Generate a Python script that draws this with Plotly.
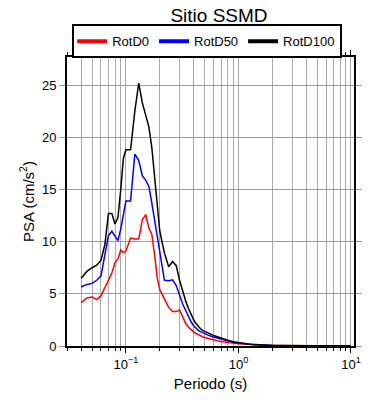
import plotly.graph_objects as go

periods = [0.04, 0.045, 0.05, 0.055, 0.06, 0.065, 0.07, 0.075, 0.08, 0.085, 0.09, 0.095, 0.1,
           0.11, 0.12, 0.13, 0.14, 0.15, 0.16, 0.17, 0.18, 0.19, 0.2,
           0.22, 0.24, 0.26, 0.28, 0.3, 0.32, 0.34, 0.36, 0.38, 0.4, 0.42, 0.44, 0.46, 0.48, 0.5,
           0.55, 0.6, 0.65, 0.7, 0.75, 0.8, 0.85, 0.9, 0.95, 1.0,
           1.1, 1.2, 1.3, 1.4, 1.5, 1.6, 1.7, 1.8, 1.9, 2.0,
           2.5, 3.0, 3.5, 4.0, 4.5, 5.0, 6.0, 7.0, 8.0, 9.0, 10.0]

rotd0 = [4.15, 4.6, 4.7, 4.45, 4.8, 5.6, 6.3, 7.0, 8.0, 8.35, 9.2, 8.95, 9.1,
         10.35, 10.25, 10.25, 12.1, 12.6, 11.3, 10.7, 8.7, 6.5, 5.4,
         4.5, 3.7, 3.3, 3.3, 3.45, 2.75, 2.15, 1.8, 1.55, 1.35, 1.2, 1.07, 0.97, 0.89, 0.82,
         0.68, 0.58, 0.5, 0.43, 0.38, 0.34, 0.3, 0.27, 0.24, 0.22,
         0.18, 0.15, 0.12, 0.1, 0.085, 0.075, 0.066, 0.058, 0.052, 0.047,
         0.03, 0.021, 0.016, 0.012, 0.01, 0.0085, 0.006, 0.0047, 0.0038, 0.0032, 0.0027]

rotd50 = [5.65, 5.9, 6.0, 6.3, 6.7, 8.6, 10.6, 11.0, 10.5, 10.1, 11.2, 12.6, 13.9,
          13.9, 18.4, 17.8, 16.3, 15.9, 15.3, 13.7, 12.0, 10.4, 8.8,
          6.3, 6.25, 6.35, 5.8, 4.8, 4.0, 3.4, 2.8, 2.3, 1.95, 1.7, 1.5, 1.38, 1.27, 1.18,
          1.0, 0.86, 0.75, 0.65, 0.56, 0.49, 0.43, 0.37, 0.33, 0.29,
          0.23, 0.18, 0.15, 0.12, 0.1, 0.088, 0.077, 0.068, 0.06, 0.053,
          0.035, 0.024, 0.018, 0.014, 0.012, 0.01, 0.007, 0.0055, 0.0045, 0.0037, 0.003]

rotd100 = [6.5, 7.15, 7.5, 7.75, 8.2, 9.7, 12.7, 12.7, 11.7, 12.3, 15.0, 18.0, 18.8,
           18.8, 22.5, 25.2, 23.3, 22.1, 21.0, 19.0, 16.3, 13.3, 11.0,
           8.9, 7.6, 8.1, 7.7, 6.3, 5.2, 4.3, 3.6, 3.0, 2.5, 2.15, 1.85, 1.65, 1.5, 1.4,
           1.22, 1.02, 0.88, 0.75, 0.64, 0.55, 0.47, 0.41, 0.36, 0.31,
           0.25, 0.2, 0.16, 0.13, 0.11, 0.095, 0.085, 0.075, 0.065, 0.058,
           0.038, 0.026, 0.02, 0.016, 0.013, 0.011, 0.008, 0.006, 0.005, 0.004, 0.0035]

series_names = ["RotD0", "RotD50", "RotD100"]
series_colors = ["#ff0000", "#0000ff", "#000000"]

x_tickvals = [0.1, 1, 10]
x_ticktext = ["10<sup>\u22121</sup>", "10<sup>0</sup>", "10<sup>1</sup>"]
x_minor = [m * 10 ** e for e in (-2, -1, 0) for m in range(2, 10)]
y_tickvals = [0, 5, 10, 15, 20, 25]

FONT = "Liberation Sans, Arial, Helvetica, sans-serif"

fig = go.Figure()
for name, vals, col in zip(series_names, [rotd0, rotd50, rotd100], series_colors):
    fig.add_trace(go.Scatter(x=periods, y=vals, mode="lines", name=name,
                             line=dict(color=col, width=1.5), showlegend=False,
                             legendgroup=name))
# legend entries with thicker sample lines
for name, col in zip(series_names, series_colors):
    fig.add_trace(go.Scatter(x=[None], y=[None], mode="lines", name=name,
                             line=dict(color=col, width=4), showlegend=True,
                             legendgroup=name))

# page has an 8px body margin, so margins are compensated
fig.update_layout(
    width=390, height=400,
    margin=dict(l=59, r=44, t=49, b=62, autoexpand=False),
    paper_bgcolor="white", plot_bgcolor="white",
    font=dict(family=FONT, size=13, color="black"),
    title=dict(text="Sitio SSMD", x=0.541, xanchor="center", y=0.981, yanchor="middle",
               font=dict(size=19, family=FONT, color="black")),
    legend=dict(orientation="h", x=0.018, xanchor="left", y=1.113, yanchor="top",
                bordercolor="black", borderwidth=2, bgcolor="white",
                font=dict(size=13, family=FONT),
                itemwidth=30, tracegroupgap=0),
    showlegend=True,
)

fig.update_xaxes(
    type="log", range=[-1.5235, 1.027], automargin=False,
    tickmode="array", tickvals=x_tickvals, ticktext=x_ticktext,
    ticks="outside", ticklen=5, tickcolor="black", tickwidth=1,
    showgrid=True, gridcolor="#aaaaaa", gridwidth=1,
    showline=True, linecolor="black", linewidth=2, mirror="ticks",
    zeroline=False,
    minor=dict(tickmode="array", tickvals=x_minor, ticks="outside", ticklen=3,
               tickcolor="black", showgrid=True, gridcolor="#aaaaaa", gridwidth=1),
    title=dict(text="Periodo (s)", font=dict(size=15, family=FONT), standoff=8),
    tickfont=dict(size=13, family=FONT),
)

fig.update_yaxes(
    range=[0, 27.7], automargin=False,
    tickmode="array", tickvals=y_tickvals,
    ticks="outside", ticklen=6, tickcolor="#999999", tickwidth=1,
    showgrid=True, gridcolor="#999999", gridwidth=1,
    showline=True, linecolor="black", linewidth=2, mirror="ticks",
    zeroline=False,
    title=dict(text="PSA (cm/s<sup>2</sup>)", font=dict(size=15, family=FONT), standoff=4),
    tickfont=dict(size=13, family=FONT),
)

fig.write_html("out.html")
